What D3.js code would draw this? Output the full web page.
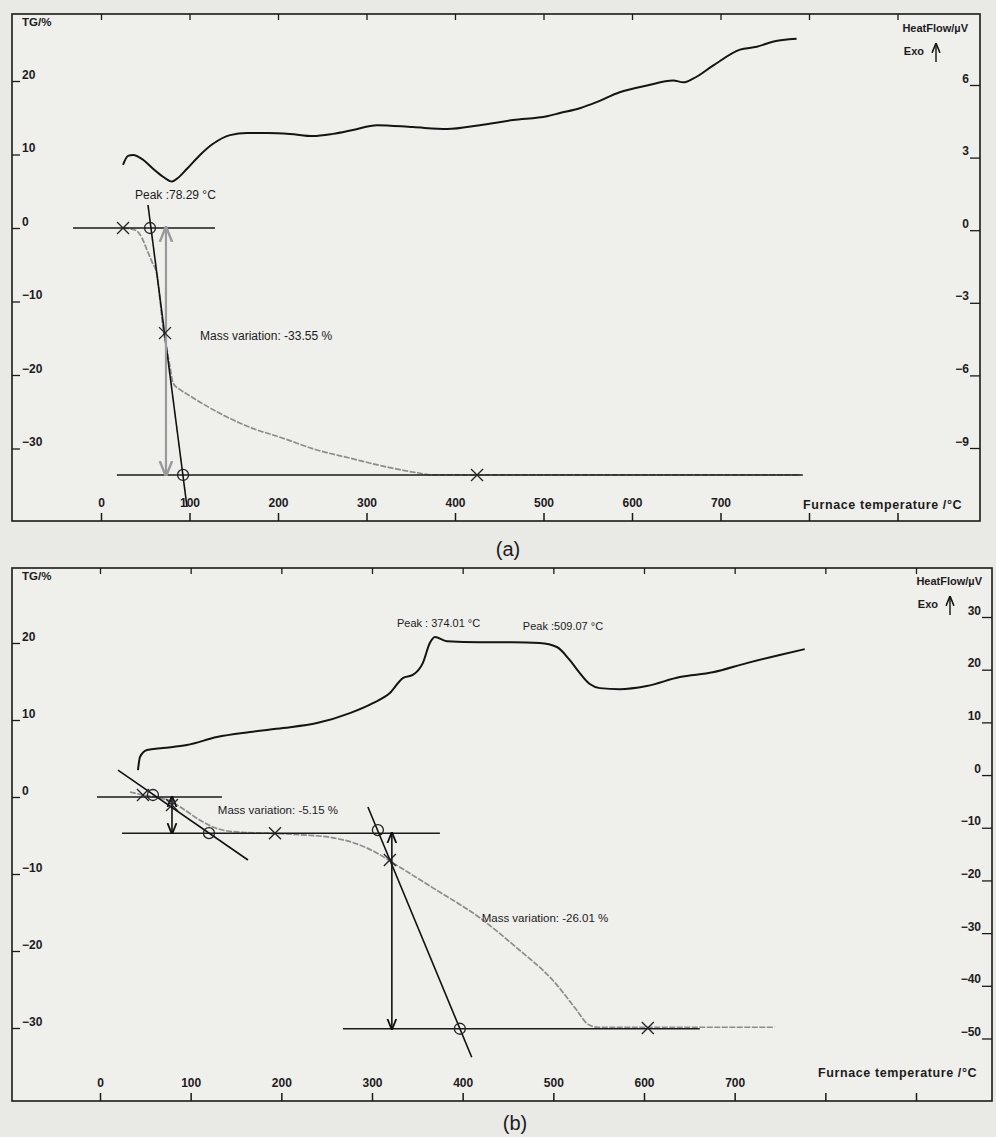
<!DOCTYPE html>
<html>
<head>
<meta charset="utf-8">
<script src="https://cdn.jsdelivr.net/npm/d3@7"></script>
<style>
body { margin: 0; background: #e9e9e6; }
text { font-family: "Liberation Sans", Arial, sans-serif; fill: #1c1c1c; }
</style>
</head>
<body>
<script>
// temperature axis (shared)
var tempTicks = [0, 100, 200, 300, 400, 500, 600, 700, 800, 900];
var tempLabels = ["0", "100", "200", "300", "400", "500", "600", "700", "", ""];

// panel (a) ticks
var tgTicksA = [20, 10, 0, -10, -20, -30];
var hfTicksA = [6, 3, 0, -3, -6, -9];
// panel (b) ticks
var tgTicksB = [20, 10, 0, -10, -20, -30];
var hfTicksB = [30, 20, 10, 0, -10, -20, -30, -40, -50];

// (a) heat flow curve
var dscA_T = [24.9, 30.5, 36.2, 47.5, 58.8, 70.1, 80.2, 85.9, 97.2, 111.9, 126.6, 145.8, 165, 187.6, 213.6, 239.5, 262.1, 284.7, 311.9, 352.5, 391, 428, 465.5, 504, 518.6, 541, 560, 586, 617, 646.6, 658, 669.5, 691.5, 722, 741, 759, 786];
var dscA_HF = [2.70, 3.07, 3.11, 2.91, 2.54, 2.21, 2.01, 2.13, 2.54, 3.11, 3.57, 3.93, 4.02, 4.02, 3.98, 3.89, 3.98, 4.14, 4.34, 4.26, 4.18, 4.34, 4.55, 4.71, 4.84, 5.04, 5.29, 5.70, 5.98, 6.19, 6.11, 6.27, 6.80, 7.46, 7.58, 7.79, 7.91];
// (a) TG curve
var tgA_T = [24.9, 38.4, 46.3, 52, 57.6, 63.3, 66.7, 70, 74.6, 78, 81.4, 89.3, 97.2, 112, 131, 168, 205.6, 244, 281, 318.6, 357, 375, 428, 790];
var tgA_V = [0, -0.27, -1.36, -3.0, -4.6, -6.4, -9.8, -13.5, -16.6, -18.9, -21.1, -22.0, -22.6, -23.7, -25.0, -27.1, -28.6, -30.2, -31.3, -32.4, -33.3, -33.6, -33.6, -33.6];

// (b) heat flow curve
var dscB_T = [41.9, 44.1, 51.8, 69.5, 95.9, 129, 165.4, 201.8, 239.3, 275.6, 301, 319.7, 334, 345, 356, 363.8, 369.3, 382.6, 419, 455.3, 485, 503.9, 518.2, 529.2, 540.2, 551.3, 573.3, 603, 639.5, 675.9, 713.3, 749.7, 777.3];
var dscB_HF = [0.95, 3.42, 4.74, 5.12, 5.69, 7.21, 8.16, 8.92, 9.87, 11.76, 13.66, 15.56, 18.4, 19.0, 21.25, 25.05, 26.2, 25.4, 25.2, 25.2, 25.05, 24.3, 21.8, 19.35, 17.27, 16.5, 16.3, 16.9, 18.6, 19.5, 21.25, 22.8, 23.9];
// (b) TG curve
var tgB_T = [33, 47.4, 60.6, 77, 93.7, 110, 124.6, 146.6, 184, 220.5, 257, 275.6, 294, 308.7, 321, 367.1, 419, 459.8, 499.4, 525.9, 538, 549, 661.5, 744];
var tgB_V = [0.65, 0.26, 0, -0.5, -1.7, -3.0, -3.9, -4.5, -4.7, -4.9, -5.3, -5.8, -6.6, -7.5, -8.4, -11.8, -15.7, -19.6, -23.8, -27.7, -29.5, -29.9, -29.9, -29.9];

// analysis marks, in temperature / TG units
var hLinesA = [[0, -31.6, 128.8], [-33.6, 18, 793]];
var tangentsA = [[53.1, 3.13, 97.2, -37.96]];
var arrowsA = [[73.4, 0, -33.6]];
var crossesA = [[24.9, 0], [72.3, -14.3], [424.9, -33.6]];
var circlesA = [[55.4, 0], [92.7, -33.6]];

var hLinesB = [[0, -3.3, 134.5], [-4.7, 24.3, 374.9], [-30.1, 267.9, 661.5]];
var tangentsB = [[19.8, 3.5, 163.2, -8.18], [295.5, -1.3, 410, -33.8]];
var arrowsB = [[79.4, 0, -4.7], [321.9, -4.7, -30.1]];
var crossesB = [[47.4, 0.26], [79.4, -1.04], [193, -4.7], [319.7, -8.18], [604.2, -30.0]];
var circlesB = [[58.4, 0.26], [120.2, -4.7], [306.5, -4.3], [396.9, -30.1]];

var svg = d3.select("body").append("svg")
  .attr("width", 996)
  .attr("height", 1137);

// arrow heads
var defs = svg.append("defs");
[["ahBlack", "#111"], ["ahGray", "#9a9a9a"]].forEach(function(m) {
  defs.append("marker")
    .attr("id", m[0])
    .attr("viewBox", "0 0 10 10")
    .attr("refX", 9).attr("refY", 5)
    .attr("markerWidth", 7).attr("markerHeight", 7)
    .attr("orient", "auto-start-reverse")
    .append("path")
    .attr("d", "M0,1 L10,5 L0,9")
    .attr("fill", "none")
    .attr("stroke", m[1])
    .attr("stroke-width", 1.6);
});

var tickFont = "Liberation Sans, Arial, sans-serif";

function drawPanel(p) {
  var g = svg.append("g");
  var left = p.frame[0], top = p.frame[1], right = p.frame[2], bottom = p.frame[3];

  var x = d3.scaleLinear().domain([0, 900]).range(p.xRange);
  var yTG = d3.scaleLinear()
    .domain([p.tgTicks[p.tgTicks.length - 1], p.tgTicks[0]])
    .range(p.tgRange);
  var yHF = d3.scaleLinear()
    .domain([p.hfTicks[p.hfTicks.length - 1], p.hfTicks[0]])
    .range(p.hfRange);

  g.append("rect")
    .attr("x", left).attr("y", top)
    .attr("width", right - left).attr("height", bottom - top)
    .attr("fill", "#efefec")
    .attr("stroke", "#1a1a1a")
    .attr("stroke-width", 1.6);

  // bottom axis, ticks inside, labels above the ticks
  var bx = g.append("g")
    .attr("transform", "translate(0," + bottom + ")")
    .call(d3.axisBottom(x).tickValues(tempTicks).tickSize(-8)
      .tickFormat(function(d, i) { return tempLabels[i]; }));
  bx.select(".domain").remove();
  bx.selectAll("line").attr("stroke", "#1a1a1a").attr("stroke-width", 1.5);
  bx.selectAll("text")
    .attr("y", -14).attr("dy", 0)
    .attr("font-size", 12).attr("font-weight", "bold")
    .attr("font-family", tickFont);

  // top axis, ticks only
  var tx = g.append("g")
    .attr("transform", "translate(0," + top + ")")
    .call(d3.axisTop(x).tickValues(tempTicks).tickSize(-6).tickFormat(""));
  tx.select(".domain").remove();
  tx.selectAll("line").attr("stroke", "#1a1a1a").attr("stroke-width", 1.3);

  // left TG axis
  var lx = g.append("g")
    .attr("transform", "translate(" + left + ",0)")
    .call(d3.axisLeft(yTG).tickValues(p.tgTicks).tickSize(-8));
  lx.select(".domain").remove();
  lx.selectAll("line").attr("stroke", "#1a1a1a").attr("stroke-width", 1.3);
  lx.selectAll("text")
    .attr("x", 10).attr("dy", -3)
    .attr("text-anchor", "start")
    .attr("font-size", 12).attr("font-weight", "bold")
    .attr("font-family", tickFont);

  // right heat flow axis
  var rx = g.append("g")
    .attr("transform", "translate(" + right + ",0)")
    .call(d3.axisRight(yHF).tickValues(p.hfTicks).tickSize(-10));
  rx.select(".domain").remove();
  rx.selectAll("line").attr("stroke", "#1a1a1a").attr("stroke-width", 1.3);
  rx.selectAll("text")
    .attr("x", -11).attr("dy", -3)
    .attr("text-anchor", "end")
    .attr("font-size", 12).attr("font-weight", "bold")
    .attr("font-family", tickFont);

  // axis titles
  g.append("text")
    .attr("x", left + 10).attr("y", top + 12)
    .attr("font-size", 11.5).attr("font-weight", "bold")
    .text("TG/%");
  g.append("text")
    .attr("x", p.hfTitle[0]).attr("y", p.hfTitle[1])
    .attr("text-anchor", "end")
    .attr("font-size", 11).attr("font-weight", "bold")
    .text("HeatFlow/µV");
  g.append("text")
    .attr("x", p.hfTitle[0] - 44).attr("y", p.hfTitle[1] + 23)
    .attr("text-anchor", "end")
    .attr("font-size", 11).attr("font-weight", "bold")
    .text("Exo");
  // exo arrow
  g.append("line")
    .attr("x1", p.hfTitle[0] - 32).attr("x2", p.hfTitle[0] - 32)
    .attr("y1", p.hfTitle[1] + 30).attr("y2", p.hfTitle[1] + 12)
    .attr("stroke", "#111").attr("stroke-width", 1.4)
    .attr("marker-end", "url(#ahBlack)");
  g.append("text")
    .attr("x", p.xTitle[0]).attr("y", p.xTitle[1])
    .attr("font-size", 12.5).attr("font-weight", "bold")
    .attr("letter-spacing", 0.6)
    .text("Furnace temperature /°C");

  // TG curve (grey)
  var tgLine = d3.line()
    .x(function(d) { return x(d[0]); })
    .y(function(d) { return yTG(d[1]); })
    .curve(d3.curveMonotoneX);
  g.append("path")
    .datum(d3.zip(p.tgT, p.tgV))
    .attr("d", tgLine)
    .attr("fill", "none")
    .attr("stroke", "#8c8c8c")
    .attr("stroke-width", 1.7)
    .attr("stroke-dasharray", "6,1.5");

  // heat flow curve (black)
  var hfLine = d3.line()
    .x(function(d) { return x(d[0]); })
    .y(function(d) { return yHF(d[1]); })
    .curve(d3.curveMonotoneX);
  g.append("path")
    .datum(d3.zip(p.dscT, p.dscHF))
    .attr("d", hfLine)
    .attr("fill", "none")
    .attr("stroke", "#141414")
    .attr("stroke-width", 2);

  // horizontal step lines
  g.selectAll(".hl").data(p.hLines).enter().append("line")
    .attr("x1", function(d) { return x(d[1]); })
    .attr("x2", function(d) { return x(d[2]); })
    .attr("y1", function(d) { return yTG(d[0]); })
    .attr("y2", function(d) { return yTG(d[0]); })
    .attr("stroke", "#1a1a1a").attr("stroke-width", 1.4);

  // tangents
  g.selectAll(".tl").data(p.tangents).enter().append("line")
    .attr("x1", function(d) { return x(d[0]); })
    .attr("y1", function(d) { return yTG(d[1]); })
    .attr("x2", function(d) { return x(d[2]); })
    .attr("y2", function(d) { return yTG(d[3]); })
    .attr("stroke", "#111").attr("stroke-width", 1.6);

  // mass variation arrows
  g.selectAll(".ar").data(p.arrows).enter().append("line")
    .attr("x1", function(d) { return x(d[0]); })
    .attr("x2", function(d) { return x(d[0]); })
    .attr("y1", function(d) { return yTG(d[1]); })
    .attr("y2", function(d) { return yTG(d[2]); })
    .attr("stroke", p.arrowColor)
    .attr("stroke-width", p.arrowColor === "#111" ? 1.6 : 2.2)
    .attr("marker-start", "url(#" + p.arrowHead + ")")
    .attr("marker-end", "url(#" + p.arrowHead + ")");

  // cross marks
  p.crosses.forEach(function(c) {
    var cx = x(c[0]), cy = yTG(c[1]), s = 6;
    g.append("path")
      .attr("d", "M" + (cx - s) + "," + (cy - s) + "L" + (cx + s) + "," + (cy + s) +
                 "M" + (cx - s) + "," + (cy + s) + "L" + (cx + s) + "," + (cy - s))
      .attr("stroke", "#222").attr("stroke-width", 1.3).attr("fill", "none");
  });

  // circle marks
  g.selectAll(".cm").data(p.circles).enter().append("circle")
    .attr("cx", function(d) { return x(d[0]); })
    .attr("cy", function(d) { return yTG(d[1]); })
    .attr("r", 5.5)
    .attr("fill", "none")
    .attr("stroke", "#222").attr("stroke-width", 1.3);

  // annotation texts
  p.notes.forEach(function(n) {
    g.append("text")
      .attr("x", x(n[0]))
      .attr("y", n[3] === "hf" ? yHF(n[1]) : yTG(n[1]))
      .attr("dy", "0.35em")
      .attr("font-size", n[4])
      .text(n[2]);
  });

  // caption
  g.append("text")
    .attr("x", p.caption[0]).attr("y", p.caption[1])
    .attr("text-anchor", "middle")
    .attr("font-size", 20)
    .attr("font-family", "Liberation Serif, Times New Roman, serif")
    .text(p.caption[2]);
}

drawPanel({
  frame: [12, 14, 980, 521],
  xRange: [101, 897.5],
  tgTicks: tgTicksA, tgRange: [448.5, 81],
  hfTicks: hfTicksA, hfRange: [448, 85],
  hfTitle: [968, 32],
  xTitle: [803, 509],
  dscT: dscA_T, dscHF: dscA_HF,
  tgT: tgA_T, tgV: tgA_V,
  hLines: hLinesA, tangents: tangentsA,
  arrows: arrowsA, arrowColor: "#9a9a9a", arrowHead: "ahGray",
  crosses: crossesA, circles: circlesA,
  notes: [[38.4, 4.5, "Peak :78.29 °C", "tg", 12],
          [111.9, -14.6, "Mass variation: -33.55 %", "tg", 12]],
  caption: [508, 556, "(a)"]
});

drawPanel({
  frame: [12, 568, 992, 1101],
  xRange: [100, 916],
  tgTicks: tgTicksB, tgRange: [1028, 643],
  hfTicks: hfTicksB, hfRange: [1038.5, 617],
  hfTitle: [982, 585],
  xTitle: [818, 1077],
  dscT: dscB_T, dscHF: dscB_HF,
  tgT: tgB_T, tgV: tgB_V,
  hLines: hLinesB, tangents: tangentsB,
  arrows: arrowsB, arrowColor: "#111", arrowHead: "ahBlack",
  crosses: crossesB, circles: circlesB,
  notes: [[327.5, 28.8, "Peak : 374.01 °C", "hf", 11],
          [466.4, 28.3, "Peak :509.07 °C", "hf", 11],
          [130, -1.7, "Mass variation: -5.15 %", "tg", 11.5],
          [421, -15.7, "Mass variation: -26.01 %", "tg", 11.5]],
  caption: [515, 1130, "(b)"]
});
</script>
</body>
</html>
